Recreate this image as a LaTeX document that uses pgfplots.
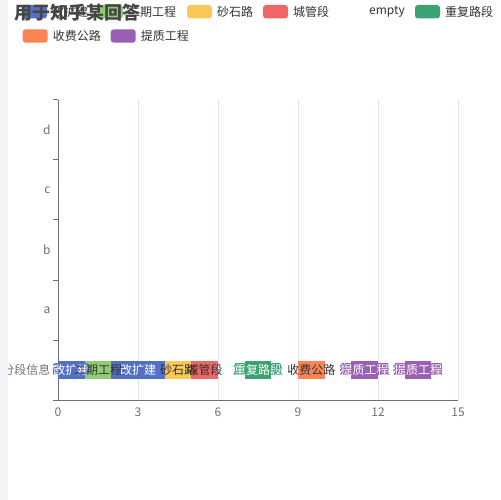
\documentclass[border=0pt]{standalone}
\usepackage{fontspec}
\setmainfont{Noto Sans CJK SC}
\usepackage{pgfplots}
\pgfplotsset{compat=1.18}
\usepackage{contour}
\contourlength{0.8pt}

\definecolor{cBlue}{HTML}{5470C6}
\definecolor{cGreen}{HTML}{91CC75}
\definecolor{cYellow}{HTML}{FAC858}
\definecolor{cRed}{HTML}{EE6666}
\definecolor{cTeal}{HTML}{3BA272}
\definecolor{cOrange}{HTML}{FC8452}
\definecolor{cPurple}{HTML}{9A60B4}
\definecolor{axisgray}{HTML}{6E7079}
\definecolor{gridgray}{HTML}{E0E6F1}
\definecolor{legendtext}{HTML}{333333}
\definecolor{titletext}{HTML}{464646}
\definecolor{pagegray}{HTML}{F2F2F7}

\newcommand{\px}{\fontsize{12bp}{14bp}\selectfont}

\pgfplotsset{
  sameframe/.style={
    at={(0,0)}, anchor=south west,
    scale only axis, width=400bp, height=300bp,
    xmin=0, xmax=15, ymin=-0.5, ymax=4.5,
  },
}

\begin{document}
\begin{tikzpicture}
% page background in pixel coordinates
\begin{scope}[shift={(-58bp,400bp)}, x=1bp, y=-1bp]
  \fill[white] (0,0) rectangle (500,500);
\end{scope}

\begin{axis}[
  sameframe,
  xbar stacked, bar width=18bp,
  axis x line*=bottom, axis y line*=left,
  axis line style={axisgray, line width=1bp},
  xtick={0,3,...,15},
  xmajorgrids=true,
  major grid style={gridgray, line width=1bp},
  ytick={0,...,4},
  yticklabels={分段信息,a,b,c,d},
  minor ytick={-0.5,0.5,...,4.5},
  major tick length=0pt,
  minor tick length=5bp,
  tick align=outside,
  minor tick style={axisgray, line width=1bp},
  ticklabel style={font=\px, text=axisgray},
  /pgf/number format/assume math mode=true,
  yticklabel style={xshift=-4bp},
  xticklabel style={yshift=-4bp},
]
\addplot[fill=cBlue, draw=none] coordinates {(1,0)};   % 改扩建
\addplot[fill=cGreen, draw=none] coordinates {(1,0)};  % 二期工程
\addplot[fill=cBlue, draw=none] coordinates {(2,0)};   % 改扩建
\addplot[fill=cYellow, draw=none] coordinates {(1,0)}; % 砂石路
\addplot[fill=cRed, draw=none] coordinates {(1,0)};    % 城管段
\addplot[fill=none, draw=none] coordinates {(1,0)};    % empty
\addplot[fill=cTeal, draw=none] coordinates {(1,0)};   % 重复路段
\addplot[fill=none, draw=none] coordinates {(1,0)};    % empty
\addplot[fill=cOrange, draw=none] coordinates {(1,0)}; % 收费公路
\addplot[fill=none, draw=none] coordinates {(1,0)};    % empty
\addplot[fill=cPurple, draw=none] coordinates {(1,0)}; % 提质工程
\addplot[fill=none, draw=none] coordinates {(1,0)};    % empty
\addplot[fill=cPurple, draw=none] coordinates {(1,0)}; % 提质工程
\end{axis}

% labels inside the segments
\begin{axis}[sameframe, hide axis, clip=false,
  nodes near coords style={anchor=center, font=\px},
]
\addplot[draw=none, mark=none, point meta=explicit symbolic,
  nodes near coords={\contour{cBlue}{\textcolor{white}{\pgfplotspointmeta}}}]
  table[meta=label] {
x y label
0.5 0 改扩建
3 0 改扩建
};
\addplot[draw=none, mark=none, point meta=explicit symbolic,
  nodes near coords={\contour{cTeal}{\textcolor{white}{\pgfplotspointmeta}}}]
  table[meta=label] {
x y label
7.5 0 重复路段
};
\addplot[draw=none, mark=none, point meta=explicit symbolic,
  nodes near coords={\contour{cPurple}{\textcolor{white}{\pgfplotspointmeta}}}]
  table[meta=label] {
x y label
11.5 0 提质工程
13.5 0 提质工程
};
\addplot[draw=none, mark=none, point meta=explicit symbolic,
  nodes near coords={\textcolor{legendtext}{\pgfplotspointmeta}}]
  table[meta=label] {
x y label
1.5 0 二期工程
4.5 0 砂石路
5.5 0 城管段
9.5 0 收费公路
};
\end{axis}

% legend, title and page edge in pixel coordinates
\begin{scope}[shift={(-58bp,400bp)}, x=1bp, y=-1bp,
  lt/.style={anchor=west, font=\px, text=legendtext, inner sep=0pt}]
  \fill[cBlue, rounded corners=3bp] (22,5) rectangle (47,18.5);
  \node[lt] at (52,11.7) {改扩建};
  \fill[cGreen, rounded corners=3bp] (98,5) rectangle (123,18.5);
  \node[lt] at (128,11.7) {二期工程};
  \fill[cYellow, rounded corners=3bp] (187,5) rectangle (212,18.5);
  \node[lt] at (217,11.7) {砂石路};
  \fill[cRed, rounded corners=3bp] (263,5) rectangle (288,18.5);
  \node[lt] at (293,11.7) {城管段};
  \node[lt] at (369,11.7) {empty};
  \fill[cTeal, rounded corners=3bp] (415,5) rectangle (440,18.5);
  \node[lt] at (445,11.7) {重复路段};
  \fill[cOrange, rounded corners=3bp] (22.7,29.3) rectangle (47.7,42.7);
  \node[lt] at (52.7,36) {收费公路};
  \fill[cPurple, rounded corners=3bp] (110.7,29.3) rectangle (135.7,42.7);
  \node[lt] at (140.7,36) {提质工程};
  \node[anchor=west, inner sep=0pt, text=titletext,
    font=\fontsize{18bp}{21bp}\selectfont\bfseries] at (14,13) {用于知乎某回答};
  \fill[pagegray] (0,0) rectangle (8,500);
  \pgfresetboundingbox
  \path[use as bounding box] (0,0) rectangle (500,500);
\end{scope}
\end{tikzpicture}
\end{document}
